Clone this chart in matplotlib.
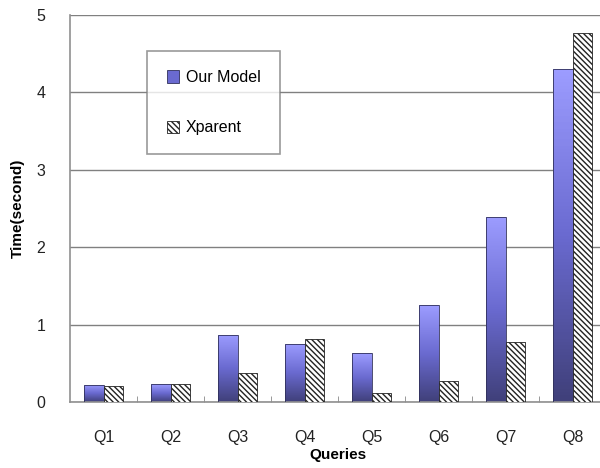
import numpy as np
import matplotlib.pyplot as plt
from matplotlib.colors import LinearSegmentedColormap
from matplotlib.patches import Patch

plt.rcParams['font.family'] = ['Liberation Sans', 'DejaVu Sans']
plt.rcParams['hatch.linewidth'] = 1.0

queries = ['Q1', 'Q2', 'Q3', 'Q4', 'Q5', 'Q6', 'Q7', 'Q8']
our_model = [0.22, 0.23, 0.87, 0.75, 0.63, 1.25, 2.39, 4.30]
xparent = [0.21, 0.23, 0.37, 0.81, 0.11, 0.27, 0.78, 4.77]

fig = plt.figure(figsize=(6, 4.68), dpi=100)
ax = fig.add_axes([0.117, 0.141, 0.893, 0.827])

x = np.arange(len(queries))
w = 0.29
hatch = '\\\\\\\\\\\\'

# blue bars with a vertical gradient (light top, dark bottom)
grad = LinearSegmentedColormap.from_list('g', ['#40407a', '#6a6ad0', '#9c9cff'])
bars1 = ax.bar(x - w / 2, our_model, w, facecolor='none', edgecolor='#30305a',
               linewidth=0.6, zorder=3)
for b in bars1:
    x0, y0 = b.get_x(), b.get_y()
    img = ax.imshow(np.linspace(0, 1, 100).reshape(-1, 1), cmap=grad, origin='lower',
                    extent=(x0, x0 + b.get_width(), y0, y0 + b.get_height()),
                    aspect='auto', zorder=2)
    img.set_clip_path(b)

bars2 = ax.bar(x + w / 2, xparent, w, facecolor='white', edgecolor='#222222',
               hatch=hatch, linewidth=0.6, zorder=3)

ax.set_xlim(-0.5, len(queries) - 0.5)
ax.set_ylim(0, 5)
ax.set_yticks(range(6))
ax.set_xticks(x)
ax.set_xticklabels(queries)
ax.set_xticks(np.arange(0.5, len(queries) - 0.5, 1), minor=True)
ax.tick_params(axis='x', which='major', length=0, pad=20, labelsize=11.5, labelcolor='#222222')
ax.tick_params(axis='x', which='minor', length=4, direction='in', color='#888888')
ax.tick_params(axis='y', length=0, pad=18, labelsize=11.5, labelcolor='#222222')

ax.grid(axis='y', color='#808080', linewidth=1.0, zorder=0)
ax.set_axisbelow(True)
for s in ['top', 'right']:
    ax.spines[s].set_visible(False)
ax.spines['left'].set_color('#909090')
ax.spines['bottom'].set_color('#909090')
ax.spines['left'].set_linewidth(1.2)
ax.spines['bottom'].set_linewidth(1.2)

ax.set_ylabel('Time(second)', fontsize=11, fontweight='bold', labelpad=8)
ax.set_xlabel('Queries', fontsize=11, fontweight='bold', labelpad=2)

handles = [Patch(facecolor='#6a6ad0', edgecolor='#30305a', linewidth=0.6, label='Our Model'),
           Patch(facecolor='white', edgecolor='#222222', hatch=hatch, linewidth=0.6,
                 label='Xparent')]
leg = ax.legend(handles=handles, loc='upper left', bbox_to_anchor=(0.144, 0.907),
                fontsize=11.5, frameon=True, fancybox=False, labelspacing=2.2,
                borderpad=1.2, handlelength=0.8, handleheight=0.8, handletextpad=0.4,
                borderaxespad=0)
leg.get_frame().set_edgecolor('#808080')
leg.get_frame().set_linewidth(1.2)

fig.savefig('out.png', dpi=100)
